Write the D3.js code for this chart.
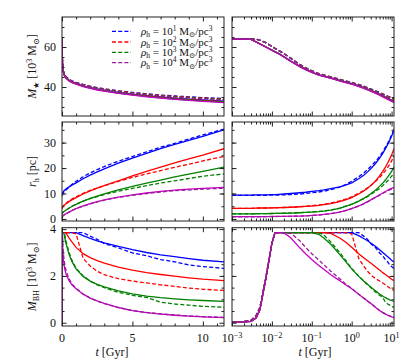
<!DOCTYPE html>
<html>
<head>
<meta charset="utf-8">
<script src="https://cdn.jsdelivr.net/npm/d3@7"></script>
<style>
body { margin: 0; background: #fff; }
svg { display: block; }
text { font-family: "Liberation Serif", "DejaVu Serif", serif; fill: #111; }
</style>
</head>
<body>
<div id="chart"></div>
<script>

// time samples [Gyr], shared by every curve
var times = [0.001, 0.002, 0.003, 0.004, 0.005, 0.007, 0.01, 0.012, 0.015, 0.02, 0.03, 0.05, 0.07, 0.1, 0.15, 0.2,
	0.3, 0.5, 0.7, 1, 1.5, 2, 2.5, 3, 4, 5, 6, 7, 8, 9, 10, 11.5];

var densities = ['1', '2', '3', '4'];

// stellar mass [10^3 Msun]
var mStarSolidB = [64,64,63.8,62.6,61.6,60.1,58.5,57.7,56.7,55.2,53.0,50.4,48.9,47.5,46.1,45.5,44.6,43.3,42.5,41.7,40.6,39.7,39.0,38.4,37.3,36.4,35.7,35.0,34.4,33.9,33.5,32.9];
var mStarSolidR = [64,64,63.8,62.6,61.6,60.1,58.4,57.6,56.6,55.1,52.9,50.3,48.8,47.4,46.0,45.4,44.5,43.2,42.4,41.6,40.5,39.6,38.8,38.2,37.1,36.2,35.5,34.8,34.2,33.7,33.3,32.7];
var mStarSolidG = [64,64,63.8,62.6,61.6,60.0,58.4,57.6,56.6,55.0,52.8,50.2,48.7,47.3,45.9,45.3,44.4,43.1,42.3,41.5,40.4,39.5,38.7,38.1,37.0,36.1,35.3,34.6,34.0,33.5,33.1,32.5];
var mStarSolidM = [64,64,63.8,62.5,61.5,60.0,58.3,57.5,56.5,55.0,52.8,50.2,48.7,47.3,45.9,45.3,44.3,43.0,42.2,41.4,40.2,39.3,38.5,37.9,36.8,35.9,35.1,34.4,33.8,33.3,32.8,32.2];
var mStarDashB = [64,64,64,63.9,63.4,62.2,60.3,59.3,58.2,56.7,54.3,51.3,49.6,48.1,46.7,46.0,45.1,43.9,43.1,42.3,41.3,40.4,39.7,39.1,38.1,37.3,36.6,36.0,35.5,35.1,34.7,34.2];
var mStarDashR = [64,64,64,63.9,63.4,62.2,60.3,59.3,58.2,56.7,54.3,51.3,49.6,48.1,46.7,46.0,45.0,43.8,43.0,42.2,41.2,40.3,39.6,39.0,38.0,37.1,36.4,35.8,35.3,34.9,34.5,34.0];
var mStarDashG = [64,64,64,63.9,63.4,62.2,60.3,59.3,58.2,56.7,54.3,51.3,49.6,48.1,46.6,45.9,44.9,43.7,42.9,42.1,41.0,40.1,39.4,38.8,37.8,36.9,36.2,35.6,35.1,34.7,34.3,33.8];
var mStarDashM = [64,64,64,63.9,63.4,62.2,60.3,59.3,58.2,56.7,54.3,51.3,49.6,48.1,46.6,45.8,44.8,43.6,42.8,42.0,40.9,40.0,39.3,38.6,37.6,36.7,36.0,35.4,34.9,34.5,34.1,33.6];

// half-mass radius [pc]
var rhSolidB = [9.4,9.4,9.4,9.45,9.5,9.5,9.6,9.6,9.7,9.8,10.0,10.3,10.5,10.8,11.1,11.4,11.9,12.6,13.3,14.2,15.8,17.2,18.5,19.7,21.9,23.9,25.8,27.6,29.3,30.9,32.5,35.0];
var rhSolidR = [4.2,4.2,4.2,4.25,4.3,4.3,4.35,4.4,4.45,4.5,4.6,4.8,4.95,5.1,5.35,5.6,6.0,6.8,7.5,8.4,9.8,11.0,12.1,13.1,15.0,16.9,18.7,20.4,22.0,23.6,25.1,27.6];
var rhSolidG = [2.0,2.0,2.0,2.05,2.1,2.1,2.15,2.2,2.2,2.25,2.3,2.45,2.55,2.7,2.9,3.1,3.5,4.2,4.9,5.7,7.0,8.1,9.0,9.9,11.4,12.8,14.1,15.3,16.5,17.6,18.7,20.4];
var rhSolidM = [0.9,0.9,0.9,0.9,0.95,0.95,1.0,1.0,1.05,1.05,1.1,1.15,1.25,1.4,1.6,1.8,2.1,2.7,3.3,4.1,5.1,6.0,6.8,7.5,8.6,9.5,10.2,10.8,11.3,11.7,12.0,12.4];
var rhDashB = [9.3,9.3,9.3,9.3,9.3,9.3,9.35,9.4,9.4,9.5,9.6,9.8,10.0,10.3,10.6,10.9,11.5,12.5,13.5,14.8,16.6,18.1,19.4,20.6,22.7,24.5,26.4,28.2,29.7,31.4,33.0,35.3];
var rhDashR = [4.2,4.2,4.2,4.25,4.3,4.3,4.35,4.4,4.45,4.5,4.6,4.8,5.0,5.2,5.5,5.8,6.3,7.1,7.8,8.7,10.1,11.2,12.2,13.1,14.8,16.3,17.7,19.0,20.3,21.5,22.8,24.6];
var rhDashG = [2.0,2.0,2.0,2.05,2.1,2.1,2.15,2.2,2.2,2.25,2.3,2.45,2.6,2.75,2.95,3.15,3.55,4.3,5.0,5.8,7.0,8.0,8.8,9.6,10.9,12.0,13.1,14.1,15.0,15.9,16.8,17.7];
var rhDashM = [0.8,0.8,0.8,0.8,0.85,0.9,0.95,0.95,1.0,1.0,1.05,1.1,1.2,1.35,1.55,1.75,2.1,2.7,3.3,4.1,5.0,5.9,6.7,7.4,8.5,9.3,10.0,10.6,11.1,11.4,11.7,12.1];

// black hole mass [10^3 Msun]
var mbhSolidB = [0.04,0.04,0.06,0.2,0.55,1.85,3.4,3.85,3.85,3.85,3.85,3.85,3.85,3.85,3.85,3.85,3.85,3.85,3.85,3.85,3.72,3.6,3.5,3.41,3.26,3.12,3.0,2.9,2.82,2.74,2.67,2.6];
var mbhSolidR = [0.04,0.04,0.06,0.2,0.55,1.85,3.4,3.85,3.85,3.85,3.85,3.85,3.85,3.85,3.85,3.85,3.82,3.62,3.45,3.22,2.95,2.78,2.65,2.55,2.38,2.25,2.14,2.06,1.99,1.92,1.86,1.8];
var mbhSolidG = [0.04,0.04,0.06,0.2,0.55,1.85,3.4,3.85,3.85,3.85,3.85,3.85,3.85,3.85,3.78,3.62,3.35,2.92,2.62,2.3,1.98,1.78,1.64,1.53,1.36,1.23,1.14,1.07,1.02,0.98,0.95,0.91];
var mbhSolidM = [0.04,0.04,0.06,0.2,0.55,1.85,3.4,3.85,3.85,3.85,3.62,3.2,2.95,2.7,2.45,2.28,2.05,1.8,1.62,1.45,1.22,1.05,0.93,0.83,0.65,0.52,0.43,0.37,0.32,0.28,0.25,0.22];
var mbhDashB = [0.04,0.05,0.1,0.3,0.65,1.9,3.4,3.85,3.85,3.85,3.85,3.85,3.85,3.85,3.85,3.85,3.85,3.85,3.85,3.85,3.85,3.7,3.56,3.38,3.2,2.98,2.86,2.7,2.6,2.47,2.4,2.32];
var mbhDashR = [0.04,0.05,0.1,0.3,0.65,1.9,3.4,3.85,3.85,3.85,3.85,3.85,3.85,3.85,3.85,3.85,3.85,3.85,3.85,3.8,2.75,2.42,2.2,2.05,1.88,1.78,1.7,1.62,1.55,1.48,1.43,1.38];
var mbhDashG = [0.04,0.05,0.1,0.3,0.65,1.9,3.4,3.85,3.85,3.85,3.85,3.85,3.85,3.85,3.85,3.75,3.45,3.0,2.68,2.32,2.0,1.78,1.62,1.5,1.3,1.17,1.08,0.88,0.8,0.75,0.7,0.66];
var mbhDashM = [0.04,0.05,0.1,0.3,0.65,1.9,3.4,3.85,3.85,3.85,3.82,3.5,3.22,2.95,2.68,2.48,2.2,1.88,1.66,1.47,1.22,1.06,0.92,0.82,0.65,0.52,0.44,0.38,0.33,0.29,0.26,0.23];

var solidColors = ['#0000ff', '#ff0000', '#008000', '#c800c8'];
var dashColors = ['#0000ff', '#ff0000', '#008000', '#9a1a9a'];

var width = 415, height = 363;

var cols = [
	{x0: 62, x1: 224, log: false},
	{x0: 232, x1: 394, log: true}
];

var rows = [
	{y0: 17, y1: 116, domain: [25.5, 75], major: [40, 60], minor: d3.range(30, 75, 5),
		solid: [mStarSolidB, mStarSolidR, mStarSolidG, mStarSolidM],
		dashed: [mStarDashB, mStarDashR, mStarDashG, mStarDashM],
		label: [{t: 'M', i: true}, {t: '★', sub: true}, {t: '\u00a0[10'}, {t: '3', sup: true}, {t: '\u00a0M'}, {t: '⊙', sub: true}, {t: ']'}]},
	{y0: 122, y1: 221, domain: [-0.8, 38.1], major: [0, 10, 20, 30], minor: d3.range(5, 40, 5),
		solid: [rhSolidB, rhSolidR, rhSolidG, rhSolidM],
		dashed: [rhDashB, rhDashR, rhDashG, rhDashM],
		label: [{t: 'r', i: true}, {t: 'h', sub: true}, {t: '\u00a0[pc]'}]},
	{y0: 227.7, y1: 326, domain: [-0.14, 4.06], major: [0, 2, 4], minor: d3.range(0.5, 4, 0.5),
		solid: [mbhSolidB, mbhSolidR, mbhSolidG, mbhSolidM],
		dashed: [mbhDashB, mbhDashR, mbhDashG, mbhDashM],
		label: [{t: 'M', i: true}, {t: 'BH', sub: true}, {t: '\u00a0[10'}, {t: '3', sup: true}, {t: '\u00a0M'}, {t: '⊙', sub: true}, {t: ']'}]}
];

function rich(text, parts, size){
	var shift = 0;
	parts.forEach(function(p){
		var target = p.sub ? size * 0.22 : (p.sup ? -size * 0.36 : 0);
		text.append('tspan')
			.attr('dy', target - shift)
			.attr('font-size', (p.sub || p.sup) ? size * 0.68 : size)
			.attr('font-style', p.i ? 'italic' : null)
			.text(p.t);
		shift = target;
	});
}

var svg = d3.select('#chart')
	.append('svg')
	.attr('width', width)
	.attr('height', height);

rows.forEach(function(row, ri){
	cols.forEach(function(col, ci){

		var x = col.log
			? d3.scaleLog().domain([0.001, 11.5]).range([col.x0, col.x1])
			: d3.scaleLinear().domain([0, 11.5]).range([col.x0, col.x1]);
		var y = d3.scaleLinear().domain(row.domain).range([row.y1, row.y0]);

		var id = 'clip' + ri + ci;
		svg.append('clipPath').attr('id', id)
			.append('rect')
			.attr('x', col.x0).attr('y', row.y0)
			.attr('width', col.x1 - col.x0).attr('height', row.y1 - row.y0);

		var g = svg.append('g').attr('clip-path', 'url(#' + id + ')');

		var line = d3.line()
			.x(function(d, i){ return x(times[i]); })
			.y(function(d){ return y(d); });

		for(var k = 0; k < 4; k++){
			g.append('path')
				.attr('d', line(row.solid[k]))
				.attr('fill', 'none')
				.attr('stroke', solidColors[k])
				.attr('stroke-width', 1.3);
			g.append('path')
				.attr('d', line(row.dashed[k]))
				.attr('fill', 'none')
				.attr('stroke', dashColors[k])
				.attr('stroke-width', 1.3)
				.attr('stroke-dasharray', '4,2.2');
		}

		// ticks, inward on all four sides
		var xMajor = col.log ? [0.001, 0.01, 0.1, 1, 10] : [0, 5, 10];
		var xMinor = col.log
			? x.ticks().filter(function(v){ return xMajor.indexOf(v) < 0 && v <= 11.5; })
			: d3.range(1, 12).filter(function(v){ return v % 5 !== 0; });

		var axes = [
			{ax: d3.axisBottom(x), tr: 'translate(0,' + row.y1 + ')', isX: true},
			{ax: d3.axisTop(x), tr: 'translate(0,' + row.y0 + ')', isX: true},
			{ax: d3.axisLeft(y), tr: 'translate(' + col.x0 + ',0)', isX: false},
			{ax: d3.axisRight(y), tr: 'translate(' + col.x1 + ',0)', isX: false}
		];
		axes.forEach(function(a){
			var maj = a.isX ? xMajor : row.major;
			var min = a.isX ? xMinor : row.minor;
			svg.append('g').attr('transform', a.tr)
				.call(a.ax.tickValues(min).tickSize(-2.5).tickFormat(''))
				.call(function(s){ s.select('.domain').remove(); s.selectAll('line').attr('stroke', '#222'); });
			svg.append('g').attr('transform', a.tr)
				.call(a.ax.tickValues(maj).tickSize(-4.5).tickFormat(''))
				.call(function(s){ s.select('.domain').remove(); s.selectAll('line').attr('stroke', '#222'); });
		});

		svg.append('rect')
			.attr('x', col.x0).attr('y', row.y0)
			.attr('width', col.x1 - col.x0).attr('height', row.y1 - row.y0)
			.attr('fill', 'none')
			.attr('stroke', '#222')
			.attr('stroke-width', 1);

		// y tick labels on the left column
		if(ci === 0){
			row.major.forEach(function(v){
				svg.append('text')
					.attr('x', col.x0 - 6).attr('y', y(v) + 4)
					.attr('text-anchor', 'end')
					.attr('font-size', 12)
					.text(v);
			});
			var lab = svg.append('text')
				.attr('transform', 'translate(36,' + ((row.y0 + row.y1) / 2) + ') rotate(-90)')
				.attr('text-anchor', 'middle')
				.attr('font-size', 12);
			rich(lab, row.label, 12);
		}

		// x tick labels on the bottom row
		if(ri === 2){
			xMajor.forEach(function(v){
				var t = svg.append('text')
					.attr('x', x(v)).attr('y', row.y1 + 16)
					.attr('text-anchor', 'middle')
					.attr('font-size', 12);
				if(col.log){
					rich(t, [{t: '10'}, {t: String(Math.round(Math.log10(v))).replace('-', '\u2212'), sup: true}], 12);
				} else {
					t.text(v);
				}
			});
			var xl = svg.append('text')
				.attr('x', ci === 0 ? 112 : 315).attr('y', 356)
				.attr('text-anchor', 'middle')
				.attr('font-size', 12);
			rich(xl, [{t: 't', i: true}, {t: '\u00a0[Gyr]'}], 12);
		}
	});
});

// legend
var legendY = [31.3, 42, 52.3, 62.7];
densities.forEach(function(p, k){
	svg.append('line')
		.attr('x1', 112).attr('x2', 131)
		.attr('y1', legendY[k]).attr('y2', legendY[k])
		.attr('stroke', dashColors[k])
		.attr('stroke-width', 1.3)
		.attr('stroke-dasharray', '4,2.2');
	var t = svg.append('text')
		.attr('x', 141).attr('y', legendY[k] + 3.5)
		.attr('font-size', 11);
	rich(t, [{t: 'ρ', i: true}, {t: 'h', sub: true}, {t: '\u00a0=\u00a010'}, {t: p, sup: true},
		{t: '\u00a0M'}, {t: '⊙', sub: true}, {t: '/pc'}, {t: '3', sup: true}], 11);
});

</script>
</body>
</html>
